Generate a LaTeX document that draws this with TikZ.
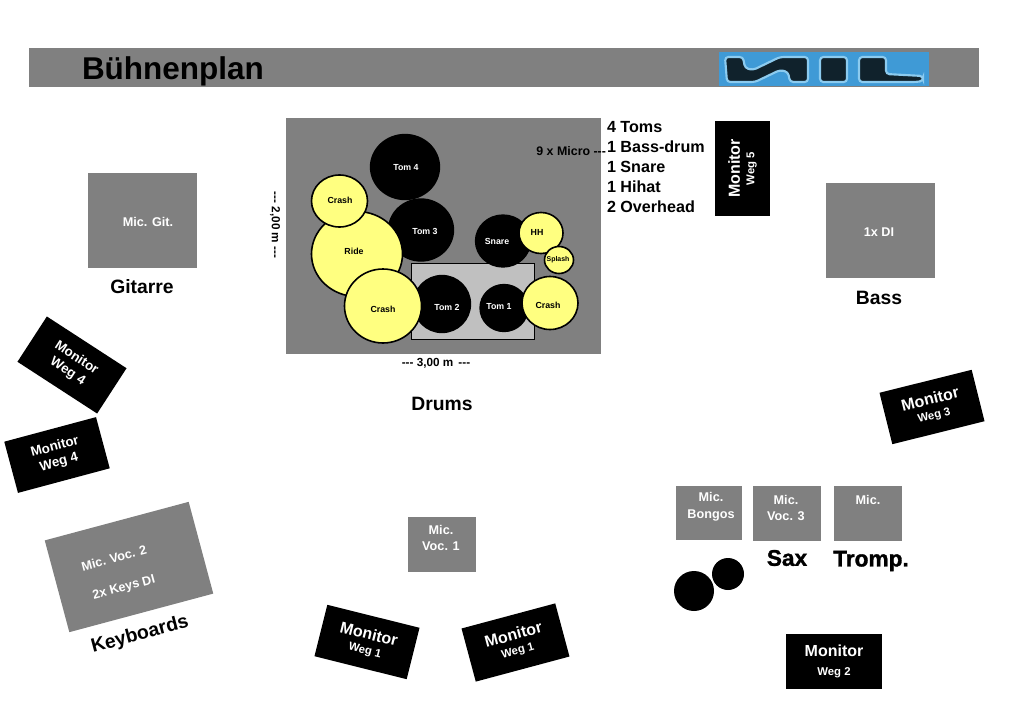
\documentclass[tikz,border=0pt]{standalone}
\usepackage{fontspec}
\setmainfont{Liberation Sans}
\newfontfamily\heavyf[FakeBold=1.4]{Liberation Sans Bold}
\usetikzlibrary{shapes.geometric}
\definecolor{stagegray}{HTML}{808080}
\definecolor{lightgray2}{HTML}{C0C0C0}
\definecolor{cymbal}{HTML}{FFFF80}
\definecolor{logoblue}{HTML}{3F9AD6}
\definecolor{logoglow}{HTML}{8CCBEF}
\definecolor{logodark}{HTML}{10222C}
\newcommand\fsz[2]{\fontsize{#1}{#2}\selectfont\bfseries}
\newcommand\monA{\fsz{12}{14}Monitor}
\newcommand\wegA[1]{\fsz{8.5}{10}Weg #1}
\tikzset{
 sized/.style 2 args={minimum width=#1*0.75pt,minimum height=#2*0.75pt},
 base/.style={inner sep=0pt,outer sep=0pt,align=center},
 graybox/.style={base,fill=stagegray,text=white},
 monitorbox/.style={base,fill=black,text=white},
 drum/.style={base,ellipse,draw=black,line width=1pt,fill=black},
 cymb/.style={base,ellipse,draw=black,line width=1.2pt,fill=cymbal},
 wlabel/.style={base,text=white,font=\fsz{6.6}{8}},
 blabel/.style={base,text=black,font=\fsz{6.6}{8}},
 heading/.style={base,text=black,font=\fsz{14.5}{17}},
 boxtext/.style={base,text=white,font=\fsz{9.5}{11.5}},
 listtext/.style={base,anchor=west,text=black,font=\fsz{12.1}{14}},
 dimtext/.style={base,text=black,font=\fsz{8.8}{10}},
 logoshape/.style={draw=logoglow,fill=logodark,line width=1.6pt,rounded corners=2.5pt},
 horn/.style={base,text=black,font=\heavyf\fontsize{17}{20}\selectfont},
}
\begin{document}
\begin{tikzpicture}[x=0.75pt,y=-0.75pt]
\useasboundingbox (0,0) rectangle (1010,714);
% title bar
\node[base,fill=stagegray,sized={950}{39}] (bar) at (504,67.5) {};
\node[base,anchor=west,text=black,font=\fsz{23.6}{26}] (title) at (82,71) {Bühnenplan};
% logo
\node[base,fill=logoblue,sized={210}{34}] (logo) at (824,68.5) {};
\path[logoshape] (725,57) -- (743,57) -- (745,68) -- (753,70) -- (780,57) -- (808,57) -- (808,82) -- (790,82) -- (788,72) -- (780,70) -- (755,82) -- (727,82) -- cycle;
\path[logoshape] (820,57) -- (847,57) -- (847,82) -- (820,82) -- cycle;
\path[logoshape] (859,57) -- (886,57) -- (886,74) -- (923,76) -- (923,81) -- (916,82) -- (859,82) -- cycle;
% drum riser
\node[base,fill=stagegray,sized={315}{236}] (riser) at (443.5,236) {};
\node[base,draw=black,line width=0.7pt,fill=lightgray2,sized={123}{76}] (kit) at (472.5,301) {};
\node[drum,sized={69}{65}] (tom4) at (405,167) {};
\node[drum,sized={65}{62}] (tom3) at (421,230) {};
\node[cymb,sized={91}{85}] (ride) at (357,254) {};
\node[cymb,sized={56}{52}] (crashtl) at (339.5,201) {};
\node[drum,sized={55}{52}] (snare) at (503,241) {};
\node[cymb,sized={44}{41}] (hh) at (541,233) {};
\node[cymb,sized={29}{27}] (splash) at (559,260) {};
\node[drum,sized={57}{57}] (tom2) at (442,304) {};
\node[cymb,sized={77}{74}] (crashb) at (383,306) {};
\node[drum,sized={48}{47}] (tom1) at (504,308) {};
\node[cymb,sized={56}{53}] (crashr) at (550,303) {};
\node[wlabel] (ltom4) at (406,168) {Tom 4};
\node[wlabel] (ltom3) at (425,231) {Tom 3};
\node[wlabel] (lsnare) at (497,241) {Snare};
\node[wlabel] (ltom2) at (447,307) {Tom 2};
\node[wlabel] (ltom1) at (499,307) {Tom 1};
\node[blabel] (lride) at (354,251) {Ride};
\node[blabel] (lcrashtl) at (340,200) {Crash};
\node[blabel] (lhh) at (537,232) {HH};
\node[blabel,font=\fsz{5.2}{6}] (lsplash) at (558,260) {Splash};
\node[blabel] (lcrashb) at (383,309) {Crash};
\node[blabel] (lcrashr) at (548,305) {Crash};
% mic list
\node[listtext] (l1) at (607,127) {4 Toms};
\node[listtext] (l2) at (607,147) {1 Bass-drum};
\node[listtext] (l3) at (607,167) {1 Snare};
\node[listtext] (l4) at (607,187) {1 Hihat};
\node[listtext] (l5) at (607,207) {2 Overhead};
\node[base,anchor=east,text=black,font=\fsz{9.3}{10}] (micro) at (606,151) {9 x Micro -{}-{}-};
\node[dimtext] (w300) at (436,363) {-{}-{}- 3,00 m\, -{}-{}-};
\node[dimtext,rotate=-90] (h200) at (275,225) {-{}-{}- 2,00 m -{}-{}-};
\node[heading] (drums) at (442,404) {Drums};
% guitar, bass
\node[graybox,sized={109}{95}] (git) at (142.5,220.5) {};
\node[boxtext] (lgit) at (148,222) {Mic. Git.};
\node[heading] (gitarre) at (142,287) {Gitarre};
\node[graybox,sized={109}{95}] (di) at (880.5,230.5) {};
\node[boxtext] (ldi) at (879,232) {1x DI};
\node[heading] (bass) at (879,298) {Bass};
% monitors
\node[monitorbox,rotate=90,sized={95}{55}] (m5) at (742.5,168.5) {\monA\\[-1pt]\wegA{5}};
\node[monitorbox,rotate=14,sized={95}{53}] (m3) at (932,407) {\monA\\[-1pt]\wegA{3}};
\node[monitorbox,rotate=-33,sized={95}{54},font=\fsz{10}{12}] (m4a) at (72,365) {Monitor\\Weg 4};
\node[monitorbox,rotate=15,sized={95}{53},font=\fsz{10}{12}] (m4b) at (57,455) {Monitor\\Weg 4};
\node[monitorbox,rotate=-14,sized={95}{53}] (m1a) at (367,642) {\monA\\[-1pt]\wegA{1}};
\node[monitorbox,rotate=15,sized={97}{55}] (m1b) at (515.5,642.5) {\monA\\[-1pt]\wegA{1}};
\node[monitorbox,sized={96}{55}] (m2) at (834,661.5) {\monA\\[2pt]\wegA{2}};
% keyboards
\node[graybox,rotate=15,sized={149}{95}] (keys) at (129,567) {};
\node[boxtext,rotate=15] (lk1) at (114,558) {Mic. Voc. 2};
\node[boxtext,rotate=15] (lk2) at (124,588) {2x Keys DI};
\node[heading,rotate=15] (keyboards) at (140,635) {Keyboards};
% vocals and horns
\node[graybox,sized={68}{55}] (v1) at (442,544.5) {};
\node[boxtext] (lv1) at (441,538) {Mic.\\Voc. 1};
\node[graybox,sized={66}{54}] (bong) at (709,513) {};
\node[boxtext,font=\fsz{9.5}{12.8}] (lbong) at (711,507) {Mic.\\Bongos};
\node[graybox,sized={68}{55}] (v3) at (787,513.5) {};
\node[boxtext] (lv3) at (786,508) {Mic.\\Voc. 3};
\node[graybox,sized={68}{55}] (tr) at (868,513.5) {};
\node[boxtext] (ltr) at (868,500) {Mic.};
\node[horn] (sax) at (787,558) {Sax};
\node[horn] (tromp) at (871,561) {Tromp.};
\node[base,circle,fill=black,sized={40}{40}] (b1) at (694,591) {};
\node[base,circle,fill=black,sized={32}{32}] (b2) at (728,574) {};
\end{tikzpicture}
\end{document}
